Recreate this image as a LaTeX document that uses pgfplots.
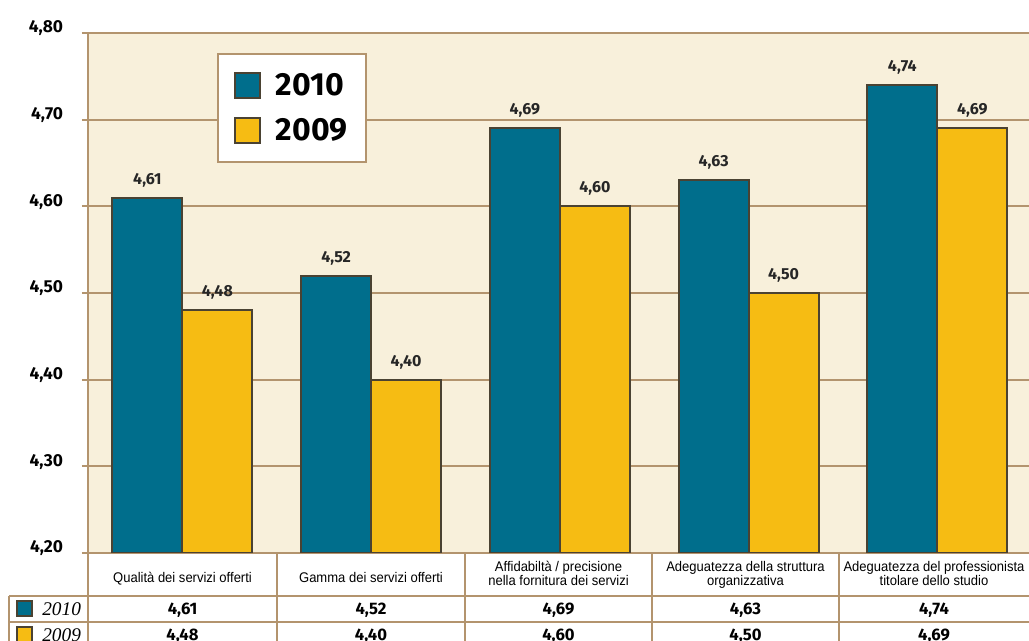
\documentclass[border=0pt]{standalone}
\usepackage{fontspec}
\setmainfont{Fira Sans}
\newfontfamily\condfont[FakeStretch=0.93]{Liberation Sans}
\newfontfamily\serifit{Liberation Serif}
\usepackage{pgfplots}
\pgfplotsset{compat=1.18}
\usepackage{pgfplotstable}

\definecolor{teal2010}{HTML}{006E8C}
\definecolor{yel2009}{HTML}{F6BC13}
\definecolor{cream}{HTML}{F8F0DB}
\definecolor{tanline}{HTML}{B3946E}
\definecolor{barline}{HTML}{4A4232}

\pgfplotstableread{
x y2010 y2009
0 4.61 4.48
1 4.52 4.40
2 4.69 4.60
3 4.63 4.50
4 4.74 4.69
}\datatable

\begin{document}
\begin{tikzpicture}
\useasboundingbox (0,0) rectangle (771.75pt,480.75pt);
\clip (0,0) rectangle (771.75pt,480.75pt);
\fill[white] (0,0) rectangle (771.75pt,480.75pt);
\begin{axis}[
  at={(66pt,66pt)}, anchor=south west,
  scale only axis, width=707.8pt, height=390pt,
  xmin=-0.5, xmax=4.5, ymin=4.2, ymax=4.8,
  ytick={4.2,4.3,4.4,4.5,4.6,4.7,4.8},
  xtick=\empty,
  ytick pos=left,
  ybar=0pt, bar width=52.5pt,
  axis background/.style={fill=cream},
  axis line style={tanline, line width=1.5pt},
  ymajorgrids, grid style={tanline, line width=1.5pt},
  tick align=outside, major tick length=4.5pt,
  tick style={tanline, line width=1.5pt},
  yticklabel style={font=\fontsize{13}{13}\selectfont\bfseries, anchor=base east, inner sep=0pt, xshift=-14pt,
    /pgf/number format/fixed, /pgf/number format/fixed zerofill,
    /pgf/number format/precision=2, /pgf/number format/use comma,
    /pgf/number format/assume math mode=true},
  clip mode=individual,
  nodes near coords={\pgfmathprintnumber[fixed,fixed zerofill,precision=2,use comma,assume math mode=true]{\pgfplotspointmeta}},
  every node near coord/.append style={font=\fontsize{12}{12}\selectfont\bfseries, anchor=base, yshift=10pt, inner sep=0pt, text=black!85},
  legend image code/.code={\draw[#1, draw=barline, line width=1.5pt] (0pt,-9.4pt) rectangle (18.75pt,9.4pt);},
  legend style={at={(0.137,0.9615)}, anchor=north west, draw=tanline, line width=1.5pt, fill=white,
    font=\fontsize{24}{24}\selectfont\bfseries,
    inner xsep=12pt, inner ysep=12.6pt, row sep=12pt,
    /tikz/every odd column/.style={column sep=9pt}},
  legend cell align=left,
]
\addplot[fill=teal2010, draw=barline, line width=1.5pt] table[x=x, y=y2010] {\datatable};
\addplot[fill=yel2009, draw=barline, line width=1.5pt] table[x=x, y=y2009] {\datatable};
\legend{2010,2009}
\end{axis}

\begin{scope}[x=0.75pt, y=-0.75pt, yshift=480.75pt]
  \draw[tanline, line width=1.5pt] (88,33) -- (88,645);
  \foreach \xx in {277,465,652,839} \draw[tanline, line width=1.5pt] (\xx,553) -- (\xx,645);
  \draw[tanline, line width=1.5pt] (9,596) -- (1035,596);
  \draw[tanline, line width=1.5pt] (9,622) -- (1035,622);
  \draw[tanline, line width=1.5pt] (9,596) -- (9,645);
  \begin{scope}[every node/.style={inner sep=0pt, anchor=base, font=\condfont\fontsize{10.5}{10.5}\selectfont}]
    \node at (182.5,583) {Qualità dei servizi offerti};
    \node at (371,583) {Gamma dei servizi offerti};
    \node at (558.5,572) {Affidabiltà / precisione};
    \node at (558.5,586) {nella fornitura dei servizi};
    \node at (745.5,572) {Adeguatezza della struttura};
    \node at (745.5,586) {organizzativa};
    \node at (934,572) {Adeguatezza del professionista};
    \node at (934,586) {titolare dello studio};
  \end{scope}
  \draw[fill=teal2010, draw=barline, line width=1.1pt] (17,601) rectangle (32,616);
  \draw[fill=yel2009, draw=barline, line width=1.1pt] (17,627) rectangle (32,642);
  \node[inner sep=0pt, anchor=base west, font=\serifit\itshape\fontsize{14.5}{14.5}\selectfont] at (42,616) {2010};
  \node[inner sep=0pt, anchor=base west, font=\serifit\itshape\fontsize{14.5}{14.5}\selectfont] at (42,642) {2009};
  \foreach \i/\cx in {0/182.5,1/371,2/558.5,3/745.5,4/934} {
    \pgfplotstablegetelem{\i}{y2010}\of\datatable
    \node[inner sep=0pt, anchor=base, font=\fontsize{12.5}{12.5}\selectfont\bfseries] at (\cx,615)
      {\pgfmathprintnumber[fixed,fixed zerofill,precision=2,use comma,assume math mode=true]{\pgfplotsretval}};
    \pgfplotstablegetelem{\i}{y2009}\of\datatable
    \node[inner sep=0pt, anchor=base, font=\fontsize{12.5}{12.5}\selectfont\bfseries] at (\cx,641)
      {\pgfmathprintnumber[fixed,fixed zerofill,precision=2,use comma,assume math mode=true]{\pgfplotsretval}};
  }
\end{scope}
\end{tikzpicture}
\end{document}
